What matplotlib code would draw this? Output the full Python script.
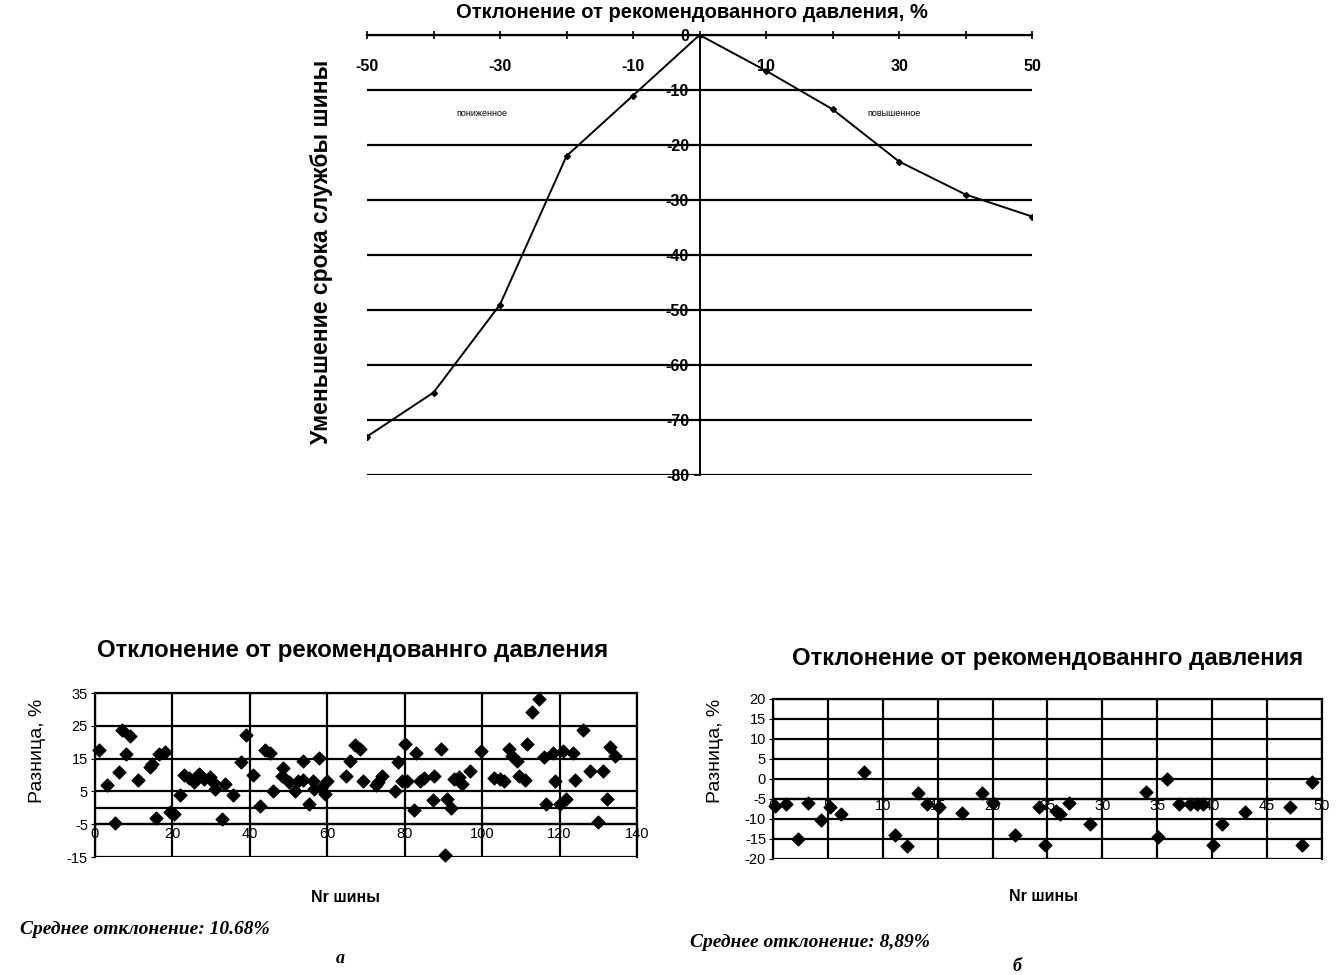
import matplotlib
matplotlib.use('Agg')
import matplotlib.pyplot as plt

plt.rcParams['font.family'] = ['Liberation Sans', 'DejaVu Sans']
plt.rcParams['axes.unicode_minus'] = False

# top chart: deviation from recommended pressure vs. loss of tyre life
dev_pct = [-50, -40, -30, -20, -10, 0, 10, 20, 30, 40, 50]
life_loss = [-73, -65, -49, -22, -11, 0, -6.5, -13.5, -23, -29, -33]
top_xticks = [-50, -30, -10, 10, 30, 50]
top_yticks = [0, -10, -20, -30, -40, -50, -60, -70, -80]

# bottom left chart (a)
a_nr = [1.1, 3.1, 5.1, 6.1, 7.1, 9, 8, 11.1, 14.2, 14.8, 15.8, 16.5, 18, 19.3, 20.5,
        21.9, 23, 24.2, 25.5, 26.9, 28.2, 29.7, 30.6, 30.9, 32.7, 33.6, 35.7, 37.6, 39,
        40.9, 42.6, 43.8, 45.1, 46,
        48.2, 48.6, 50, 51.7, 52.5, 53.8, 53.8, 55.4, 56.2, 56.6, 58, 58.5, 59.4, 60,
        64.8, 66, 67.1, 68.4, 69.3, 72.5, 73.1, 74.2, 77.4, 78.3, 79.4, 80, 80.6, 82.3,
        83, 83.9, 85.1, 87.3, 87.7, 89.4, 90.3, 92,
        91, 92.7, 94, 94.9, 96.9, 99.7, 103.2, 104.6, 105.7, 106.9, 107.8, 108.9, 109.4,
        111.1, 111.7, 112.9, 114.8, 116.4, 116, 118.2, 118.9, 120.1, 120.8, 121.6, 123.4,
        124.1, 126.1, 127.9, 130, 131.3, 132.2, 133, 134.4]
a_diff = [17.7, 6.9, -4.5, 11, 23.6, 22, 16.3, 8.4, 12.5, 13.5, -3.2, 16.3, 17, -1.4, -1.9,
          3.8, 10, 9, 7.9, 10.2, 8.7, 9.4, 7.9, 5.8, -3.5, 7.4, 3.8, 13.9, 22.3,
          10, 0.5, 17.7, 16.6, 5,
          9.6, 12.1, 8, 5, 8.3, 14.2, 8.6, 1.1, 8.3, 5.8, 15.2, 6, 4.2, 8.3,
          9.6, 14.2, 19.3, 17.8, 8.1, 7, 8, 9.6, 5.2, 14, 8.3, 19.5, 8.3, -0.6,
          16.7, 8.3, 9.1, 2.4, 9.6, 17.8, -14.4, 0,
          2.7, 8.8, 9.3, 7.2, 11.3, 17.4, 9, 8.8, 8.3, 18, 15.9, 14.4, 9.8,
          8.5, 19.5, 29.2, 33.3, 1.1, 15.6, 16.6, 8.3, 1.1, 17.4, 2.7, 16.6,
          8.5, 23.6, 11.3, -4.2, 11.3, 2.7, 18.5, 15.9]

# bottom right chart (b)
b_nr = [0.2, 1.2, 2.3, 3.2, 4.4, 5.2, 6.2, 8.3, 11.1, 12.2, 13.2, 14, 15.1, 17.2, 19,
        20, 22, 24.2, 24.8, 25.8, 26.1, 27, 28.9, 34, 35.1, 35.9, 37, 38, 38.6, 39.2,
        40.1, 40.9, 43, 47.1, 48.2, 49.1]
b_diff = [-6.7, -6.2, -14.9, -6, -10.3, -6.9, -8.7, 1.7, -14, -16.7, -3.4, -6.2, -6.9,
          -8.6, -3.5, -6, -14, -6.9, -16.6, -7.9, -8.8, -6, -11.3, -3.3, -14.6, 0,
          -6.2, -6.2, -6.2, -6.2, -16.5, -11.3, -8.3, -7.1, -16.5, -0.8]

fig = plt.figure(figsize=(13.41, 9.75), dpi=100)

# ---- top chart ----
ax = fig.add_axes([0.2737, 0.5128, 0.4959, 0.4513])
ax.plot(dev_pct, life_loss, color='black', lw=1.4, marker='D', ms=3, zorder=3)
ax.set_xlim(-50, 50)
ax.set_ylim(-80, 0)
ax.spines['right'].set_visible(False)
ax.spines['bottom'].set_visible(False)
ax.spines['left'].set_position(('data', 0))
ax.spines['top'].set_linewidth(1.6)
ax.spines['left'].set_linewidth(1.4)
ax.xaxis.set_ticks_position('top')
ax.set_xticks(top_xticks)
ax.set_xticks(range(-50, 51, 10), minor=True)
ax.tick_params(axis='x', which='both', direction='inout', length=6, width=1.2,
               pad=-31, labelsize=11.5)
ax.set_yticks(top_yticks)
ax.tick_params(axis='y', length=4, width=1.2, labelsize=11.5)
for lab in ax.get_xticklabels() + ax.get_yticklabels():
    lab.set_fontweight('bold')
ax.yaxis.grid(True, color='black', lw=1.6)
ax.text(-32.8, -14.2, 'пониженное', fontsize=6.5, ha='center', va='center')
ax.text(29.3, -14.2, 'повышенное', fontsize=6.5, ha='center', va='center')
fig.text(0.516, 1 - 13 / 975, 'Отклонение от рекомендованного давления, %',
         ha='center', va='center', fontsize=14.5, fontweight='bold')
fig.text(0.2401, 0.7415, 'Уменьшение срока службы шины', rotation=90,
         ha='center', va='center', fontsize=16.5, fontweight='bold')


def scatter_panel(rect, xs, ys, xlim, ylim, xstep, ystep, pad):
    b = fig.add_axes(rect)
    b.scatter(xs, ys, marker='D', s=42, color='black', zorder=3, clip_on=False)
    b.set_xlim(*xlim)
    b.set_ylim(*ylim)
    b.set_xticks(range(xlim[0], xlim[1] + 1, xstep))
    b.set_yticks(range(ylim[0], ylim[1] + 1, ystep))
    b.grid(True, color='black', lw=1.6)
    b.spines['bottom'].set_position(('data', -5))
    for s in b.spines.values():
        s.set_linewidth(1.6)
    b.tick_params(axis='y', length=3, labelsize=10.5, pad=2)
    b.tick_params(axis='x', length=3, labelsize=10.5, pad=pad)
    return b


bl = scatter_panel([0.0708, 0.1210, 0.4042, 0.1682], a_nr, a_diff, (0, 140), (-15, 35), 20, 10, -1)
bl.axhline(0, color='black', lw=1.6, zorder=1)
scatter_panel([0.5764, 0.1190, 0.4094, 0.1641], b_nr, b_diff, (0, 50), (-20, 20), 5, 5, -3)

serif = ['Liberation Serif', 'DejaVu Serif']
for cx, ty, yl_x, xl_x, xl_y, mean_x, mean_y, mean_txt, let_x, let_y, let in [
        (0.263, 0.3333, 0.0283, 0.2573, 0.080, 0.0149, 0.0462,
         'Среднее отклонение: 10.68%', 0.2535, 0.0174, 'а'),
        (0.781, 0.3251, 0.5332, 0.7785, 0.081, 0.5145, 0.0338,
         'Среднее отклонение: 8,89%', 0.7584, 0.0092, 'б')]:
    fig.text(cx, ty, 'Отклонение от рекомендованнго давления', ha='center', va='center',
             fontsize=17.3, fontweight='bold')
    fig.text(yl_x, 0.2300, 'Разница, %', rotation=90, ha='center', va='center', fontsize=14)
    fig.text(xl_x, xl_y, 'Nr шины', ha='center', va='center', fontsize=11.5, fontweight='bold')
    fig.text(mean_x, mean_y, mean_txt, ha='left', va='center', fontsize=14,
             fontweight='bold', fontstyle='italic', family=serif)
    fig.text(let_x, let_y, let, ha='center', va='center', fontsize=13,
             fontweight='bold', fontstyle='italic', family=serif)

fig.savefig('out.png', dpi=100)
